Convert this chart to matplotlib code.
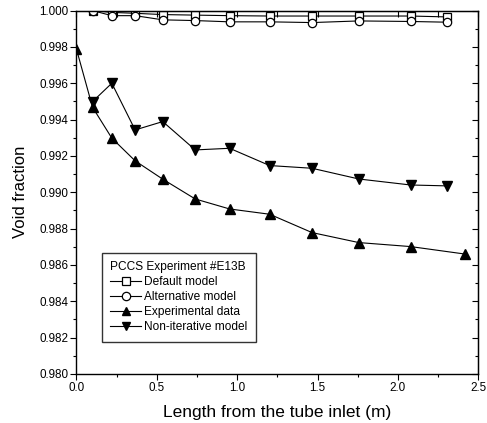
import matplotlib
matplotlib.use('Agg')
import matplotlib.pyplot as plt
from matplotlib.ticker import MultipleLocator, FormatStrFormatter

plt.rcParams['font.family'] = ['Liberation Sans', 'DejaVu Sans']

# Axial positions along the tube (m)
x_exp = [0.0, 0.10, 0.22, 0.365, 0.537, 0.739, 0.953, 1.202, 1.466, 1.757, 2.079, 2.416]
x_model = [0.10, 0.22, 0.365, 0.537, 0.739, 0.953, 1.202, 1.466, 1.757, 2.079, 2.308]

# Void fraction per series
default_model = [1.0000, 0.99990, 0.99985, 0.99978, 0.99975, 0.99972, 0.99970, 0.99970,
                 0.99970, 0.99970, 0.99965]
alternative_model = [1.0000, 0.99972, 0.99972, 0.99949, 0.99945, 0.99938, 0.99938, 0.99934,
                     0.99943, 0.99940, 0.99936]
experimental = [0.99788, 0.99468, 0.99298, 0.99173, 0.99072, 0.98963, 0.98908, 0.98879,
                0.98778, 0.98723, 0.98701, 0.98660]
non_iterative = [0.99499, 0.99600, 0.99343, 0.99389, 0.99233, 0.99242, 0.99147, 0.99132,
                 0.99073, 0.99040, 0.99035]

fig = plt.figure(figsize=(4.87, 4.23), dpi=100)
ax = fig.add_axes([0.157, 0.116, 0.825, 0.859])

lw = 0.8
ax.plot(x_model, default_model, color='black', lw=lw, marker='s', ms=5.5,
        mfc='white', mec='black', mew=0.9, label='Default model')
ax.plot(x_model, alternative_model, color='black', lw=lw, marker='o', ms=6,
        mfc='white', mec='black', mew=0.9, label='Alternative model')
ax.plot(x_exp, experimental, color='black', lw=lw, marker='^', ms=7,
        mfc='black', mec='black', label='Experimental data')
ax.plot(x_model, non_iterative, color='black', lw=lw, marker='v', ms=7,
        mfc='black', mec='black', label='Non-iterative model')

ax.set_xlim(0.0, 2.5)
ax.set_ylim(0.980, 1.000)
ax.xaxis.set_major_locator(MultipleLocator(0.5))
ax.xaxis.set_minor_locator(MultipleLocator(0.25))
ax.yaxis.set_major_locator(MultipleLocator(0.002))
ax.yaxis.set_minor_locator(MultipleLocator(0.001))
ax.yaxis.set_major_formatter(FormatStrFormatter('%.3f'))
ax.xaxis.set_major_formatter(FormatStrFormatter('%.1f'))

# Outward ticks on bottom/left, inward ticks on top/right
ax.tick_params(axis='both', which='major', direction='out', length=4, width=0.8,
               labelsize=8.4, pad=2)
ax.tick_params(axis='both', which='minor', direction='out', length=2.5, width=0.8)
ax2 = ax.secondary_xaxis('top')
ax2.xaxis.set_major_locator(MultipleLocator(0.25))
ax2.tick_params(direction='in', length=4, width=0.8, labeltop=False)
ay2 = ax.secondary_yaxis('right')
ay2.yaxis.set_major_locator(MultipleLocator(0.002))
ay2.yaxis.set_minor_locator(MultipleLocator(0.001))
ay2.tick_params(which='major', direction='in', length=4, width=0.8, labelright=False)
ay2.tick_params(which='minor', direction='in', length=2.5, width=0.8)

for spine in ax.spines.values():
    spine.set_linewidth(1.0)

ax.set_xlabel('Length from the tube inlet (m)', fontsize=12.5, labelpad=8)
ax.set_ylabel('Void fraction', fontsize=12, labelpad=8)

leg = ax.legend(title='PCCS Experiment #E13B', loc='lower left',
                bbox_to_anchor=(0.063, 0.089), fontsize=8.6, title_fontsize=8.6,
                frameon=True, fancybox=False, edgecolor='black', handlelength=2.6,
                handletextpad=0.25, labelspacing=0.25, borderpad=0.7,
                borderaxespad=0)
leg.get_frame().set_linewidth(1.0)
leg._legend_box.align = 'left'
for h in leg.legend_handles:
    h.set_markersize(6)

fig.savefig('out.png', dpi=100)
